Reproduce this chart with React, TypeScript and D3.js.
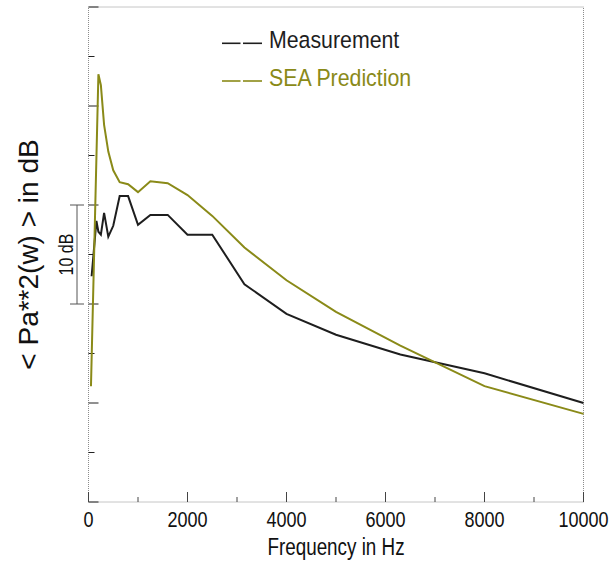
import React, { useEffect, useRef } from 'react';
import * as d3 from 'd3';

// third-octave band centres (Hz) and band levels (dB, arbitrary reference)
const measFreq = [63, 160, 200, 250, 315, 400, 500, 630, 800, 1000, 1250, 1600, 2000, 2500, 3150, 4000, 5000, 6300, 8000, 10000];
const measLevel = [22.8, 28.4, 27.3, 27.0, 29.2, 26.8, 27.9, 30.9, 30.9, 28.0, 29.0, 29.0, 27.0, 27.0, 22.0, 19.0, 16.9, 14.9, 13.0, 10.0];

const predFreq = [50, 200, 250, 315, 400, 500, 630, 800, 1000, 1250, 1600, 2000, 2500, 3150, 4000, 5000, 6300, 8000, 10000];
const predLevel = [11.7, 43.2, 42.1, 38.1, 35.4, 33.5, 32.3, 32.1, 31.3, 32.4, 32.2, 31.0, 28.9, 25.7, 22.4, 19.2, 15.8, 11.7, 8.9];

const xTicks = [0, 1000, 2000, 3000, 4000, 5000, 6000, 7000, 8000, 9000, 10000];
const xTickLabels = ['0', '2000', '4000', '6000', '8000', '10000'];
const yTicks = [0, 5, 10, 15, 20, 25, 30, 35, 40, 45, 50];

const seriesNames = ['Measurement', 'SEA Prediction'];
const seriesColors = ['#1e1e1e', '#8a8a18'];

// no narrow face installed: squeeze Liberation Sans horizontally instead
const FONT = "'Liberation Sans', Arial, sans-serif";
const NARROW = 'scale(0.82,1)';

const SeaChart = () => {
    const svgRef = useRef(null);

    const width = 613;
    const height = 563;
    const margin = { top: 7, right: 29.5, bottom: 61, left: 88.5 };
    const innerW = width - margin.left - margin.right;
    const innerH = height - margin.top - margin.bottom;

    useEffect(() => {
        const svg = d3.select(svgRef.current);
        svg.selectAll('*').remove();

        const x = d3.scaleLinear().domain([0, 10000]).range([margin.left, margin.left + innerW]);
        const y = d3.scaleLinear().domain([0, 50]).range([margin.top + innerH, margin.top]);

        // frame
        svg.append('rect')
            .attr('x', margin.left)
            .attr('y', margin.top)
            .attr('width', innerW)
            .attr('height', innerH)
            .attr('fill', 'none')
            .attr('stroke', '#8c8c8c')
            .attr('stroke-dasharray', '1,1');

        // left ticks (inward), long every 10 dB
        svg.append('g').selectAll('line')
            .data(yTicks)
            .join('line')
            .attr('x1', margin.left)
            .attr('x2', d => margin.left + (d % 10 === 0 ? 10 : 6))
            .attr('y1', d => y(d))
            .attr('y2', d => y(d))
            .attr('stroke', '#222')
            .attr('stroke-width', 1);

        // bottom ticks (inward)
        svg.append('g').selectAll('line')
            .data(xTicks)
            .join('line')
            .attr('x1', d => x(d))
            .attr('x2', d => x(d))
            .attr('y1', margin.top + innerH)
            .attr('y2', d => margin.top + innerH - (d % 2000 === 0 ? 10 : 5))
            .attr('stroke', '#444')
            .attr('stroke-width', 1);

        svg.append('g').selectAll('text')
            .data(xTickLabels)
            .join('text')
            .attr('transform', d => `translate(${x(+d)},527) ${NARROW}`)
            .attr('text-anchor', 'middle')
            .attr('font-family', FONT)
            .attr('font-size', 22)
            .attr('fill', '#111')
            .text(d => d);

        svg.append('text')
            .attr('transform', `translate(${margin.left + innerW / 2},555) ${NARROW}`)
            .attr('text-anchor', 'middle')
            .attr('font-family', FONT)
            .attr('font-size', 23)
            .attr('fill', '#111')
            .text('Frequency in Hz');

        svg.append('text')
            .attr('transform', `translate(38,${margin.top + innerH / 2}) rotate(-90)`)
            .attr('text-anchor', 'middle')
            .attr('font-family', FONT)
            .attr('font-size', 28)
            .attr('fill', '#111')
            .text('< Pa**2(w) > in dB');

        // 10 dB scale bar
        const bar = svg.append('g').attr('stroke', '#555').attr('stroke-width', 1);
        bar.append('line').attr('x1', 77).attr('x2', 77).attr('y1', y(30)).attr('y2', y(20));
        bar.append('line').attr('x1', 70).attr('x2', 84).attr('y1', y(30)).attr('y2', y(30));
        bar.append('line').attr('x1', 70).attr('x2', 84).attr('y1', y(20)).attr('y2', y(20));
        svg.append('text')
            .attr('transform', `translate(73,${y(25)}) rotate(-90) ${NARROW}`)
            .attr('text-anchor', 'middle')
            .attr('font-family', FONT)
            .attr('font-size', 19.5)
            .attr('fill', '#111')
            .text('10 dB');

        const line = d3.line()
            .x(d => x(d[0]))
            .y(d => y(d[1]));

        const series = [d3.zip(measFreq, measLevel), d3.zip(predFreq, predLevel)];

        svg.append('g').selectAll('path')
            .data(series)
            .join('path')
            .attr('d', d => line(d))
            .attr('fill', 'none')
            .attr('stroke', (d, i) => seriesColors[i])
            .attr('stroke-width', 2)
            .attr('stroke-linejoin', 'miter');

        // legend
        const legendY = [43.3, 81];
        const lg = svg.append('g');
        seriesNames.forEach((name, i) => {
            lg.append('line')
                .attr('x1', 222).attr('x2', 240.5)
                .attr('y1', legendY[i]).attr('y2', legendY[i])
                .attr('stroke', seriesColors[i]).attr('stroke-width', 1.6);
            lg.append('line')
                .attr('x1', 243).attr('x2', 262)
                .attr('y1', legendY[i]).attr('y2', legendY[i])
                .attr('stroke', seriesColors[i]).attr('stroke-width', 1.6);
            lg.append('text')
                .attr('transform', `translate(269,${legendY[i] + 4.5}) scale(0.87,1)`)
                .attr('font-family', FONT)
                .attr('font-size', 24.5)
                .attr('fill', seriesColors[i])
                .text(name);
        });
    }, []);

    return (
        <svg
            ref={svgRef}
            width={width}
            height={height}
            style={{ position: 'absolute', left: 0, top: 0, background: '#fff' }}
        />
    );
};

export default function App() {
    return <SeaChart />;
}
